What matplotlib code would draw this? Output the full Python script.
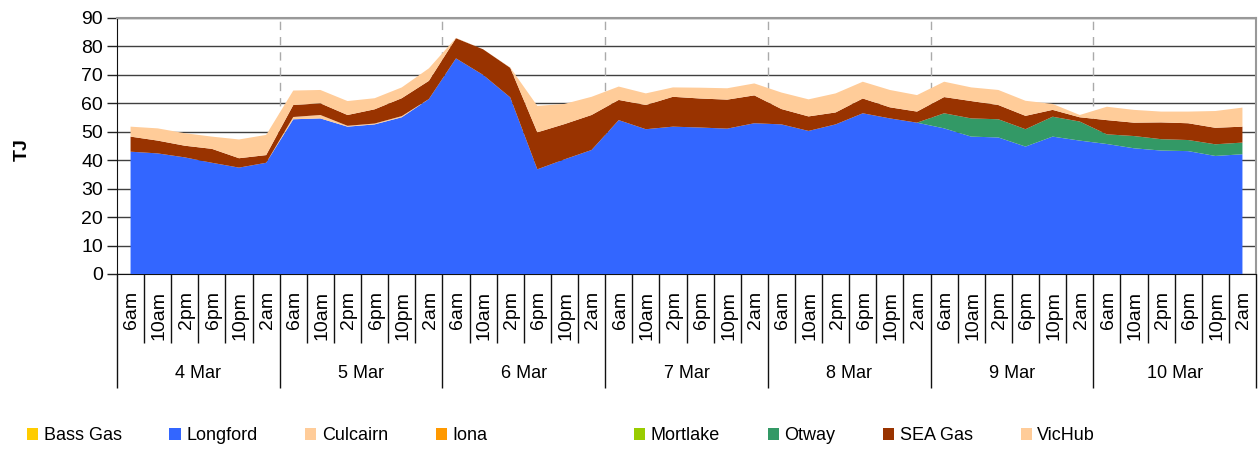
import numpy as np
import matplotlib
matplotlib.use("Agg")
import matplotlib.pyplot as plt
from matplotlib.transforms import blended_transform_factory

plt.rcParams['font.family'] = ['Liberation Sans', 'DejaVu Sans']

days = ["4 Mar", "5 Mar", "6 Mar", "7 Mar", "8 Mar", "9 Mar", "10 Mar"]
times = ["6am", "10am", "2pm", "6pm", "10pm", "2am"]

series_names = ["Bass Gas", "Longford", "Culcairn", "Iona", "Mortlake", "Otway", "SEA Gas", "VicHub"]
series_colors = ["#FFCC00", "#3366FF", "#FFCC99", "#FF9900", "#99CC00", "#339966", "#993300", "#FFCC99"]

bass_gas = [0.0] * 42
longford = [43.0, 42.4, 41.0, 39.1, 37.4, 39.1,
            54.4, 54.7, 51.8, 52.6, 55.1, 61.5,
            75.8, 70.0, 62.1, 36.8, 40.3, 43.6,
            54.1, 50.9, 51.8, 51.5, 51.1, 53.0,
            52.6, 50.3, 52.6, 56.5, 54.7, 53.2,
            51.2, 48.3, 48.0, 44.8, 48.3, 46.9,
            45.7, 44.2, 43.4, 43.2, 41.5, 42.1]
culcairn = [0, 0, 0, 0, 0, 0,
            0.8, 1.2, 0.3, 0.3, 0.4, 0,
            0, 0, 0, 0, 0, 0,
            0, 0, 0, 0, 0, 0,
            0, 0, 0, 0, 0, 0,
            0, 0, 0, 0, 0, 0,
            0, 0, 0, 0, 0, 0]
iona = [0.0] * 42
mortlake = [0.0] * 42
otway = [0, 0, 0, 0, 0, 0,
         0, 0, 0, 0, 0, 0,
         0, 0, 0, 0, 0, 0,
         0, 0, 0, 0, 0, 0,
         0, 0, 0, 0, 0, 0,
         5.3, 6.4, 6.4, 6.1, 7.0, 6.7,
         3.4, 4.3, 4.0, 3.9, 4.1, 4.1]
sea_gas = [5.3, 4.5, 4.1, 4.9, 3.3, 2.7,
           4.2, 4.1, 3.8, 5.0, 6.3, 6.4,
           7.1, 9.0, 10.4, 13.0, 12.4, 12.3,
           7.1, 8.5, 10.5, 10.2, 10.2, 9.8,
           5.4, 5.1, 4.2, 5.2, 3.9, 3.9,
           5.7, 6.1, 5.0, 4.7, 2.4, 1.5,
           5.0, 4.7, 5.9, 5.9, 5.8, 5.6]
vichub = [3.5, 4.3, 4.4, 4.3, 6.6, 7.1,
          5.1, 4.7, 4.9, 3.9, 3.8, 4.4,
          0.1, 0.0, 0.1, 9.3, 7.1, 6.4,
          4.7, 4.1, 3.3, 3.8, 4.0, 4.2,
          5.8, 6.0, 6.7, 5.9, 6.1, 5.8,
          5.4, 4.8, 5.3, 5.3, 2.1, 0.8,
          4.7, 4.5, 3.8, 4.1, 5.9, 6.7]

data = [bass_gas, longford, culcairn, iona, mortlake, otway, sea_gas, vichub]
n = len(days) * len(times)
x = np.arange(n)

fig = plt.figure(figsize=(12.6, 4.5), dpi=100)
ax = fig.add_axes([117 / 1260, 1 - 274 / 450, (1256 - 117) / 1260, 256 / 450])

polys = ax.stackplot(x, data, colors=series_colors, labels=series_names, linewidth=0, zorder=3)

ax.set_xlim(-0.5, n - 0.5)
ax.set_ylim(0, 90)
ax.set_yticks(np.arange(0, 91, 10))
ax.tick_params(axis='y', labelsize=14, length=7, width=1, color='#222222', pad=3)
ax.yaxis.grid(True, color='#404040', linewidth=1, zorder=1)
ax.set_axisbelow(True)

# day separators (dashed)
for d in range(1, len(days)):
    ax.axvline(d * len(times) - 0.5, color='#aaaaaa', linestyle=(0, (6, 5)), linewidth=1, zorder=2)

for s in ['top', 'right']:
    ax.spines[s].set_color('#999999')
    ax.spines[s].set_linewidth(1.5)
ax.spines['left'].set_color('#111111')
ax.spines['bottom'].set_color('#111111')

# category axis: short ticks between times, long ticks between days
bounds = np.arange(n + 1) - 0.5
ax.set_xticks([b for i, b in enumerate(bounds) if i % len(times) != 0])
ax.set_xticks(bounds[::len(times)], minor=True)
ax.tick_params(axis='x', which='major', length=69 * 0.72, width=1, color='#111111', labelbottom=False)
ax.tick_params(axis='x', which='minor', length=114 * 0.72, width=1, color='#111111', labelbottom=False)

tr = blended_transform_factory(ax.transData, ax.transAxes)
for i in range(n):
    ax.annotate(times[i % len(times)], xy=(i, 0), xycoords=tr, xytext=(1, -17 * 0.72),
                textcoords='offset points', rotation=90, ha='center', va='top', fontsize=14)
for d, day in enumerate(days):
    ax.annotate(day, xy=(d * len(times) + (len(times) - 1) / 2, 0), xycoords=tr,
                xytext=(0, -99 * 0.72), textcoords='offset points', ha='center', va='center', fontsize=13)

fig.text(22 / 1260, 1 - 150 / 450, "TJ", rotation=90, fontsize=14, fontweight='bold', ha='center', va='center')

leg_kw = dict(ncol=4, frameon=False, fontsize=13, handlelength=0.62, handleheight=0.62,
              handletextpad=0.3, columnspacing=2.65, borderpad=0, borderaxespad=0)
fig.legend(polys[:4], series_names[:4], loc='center left', bbox_to_anchor=(27 / 1260, 1 - 436 / 450), **leg_kw)
fig.legend(polys[4:], series_names[4:], loc='center left', bbox_to_anchor=(634 / 1260, 1 - 436 / 450), **leg_kw)

fig.savefig("out.png", dpi=100)
